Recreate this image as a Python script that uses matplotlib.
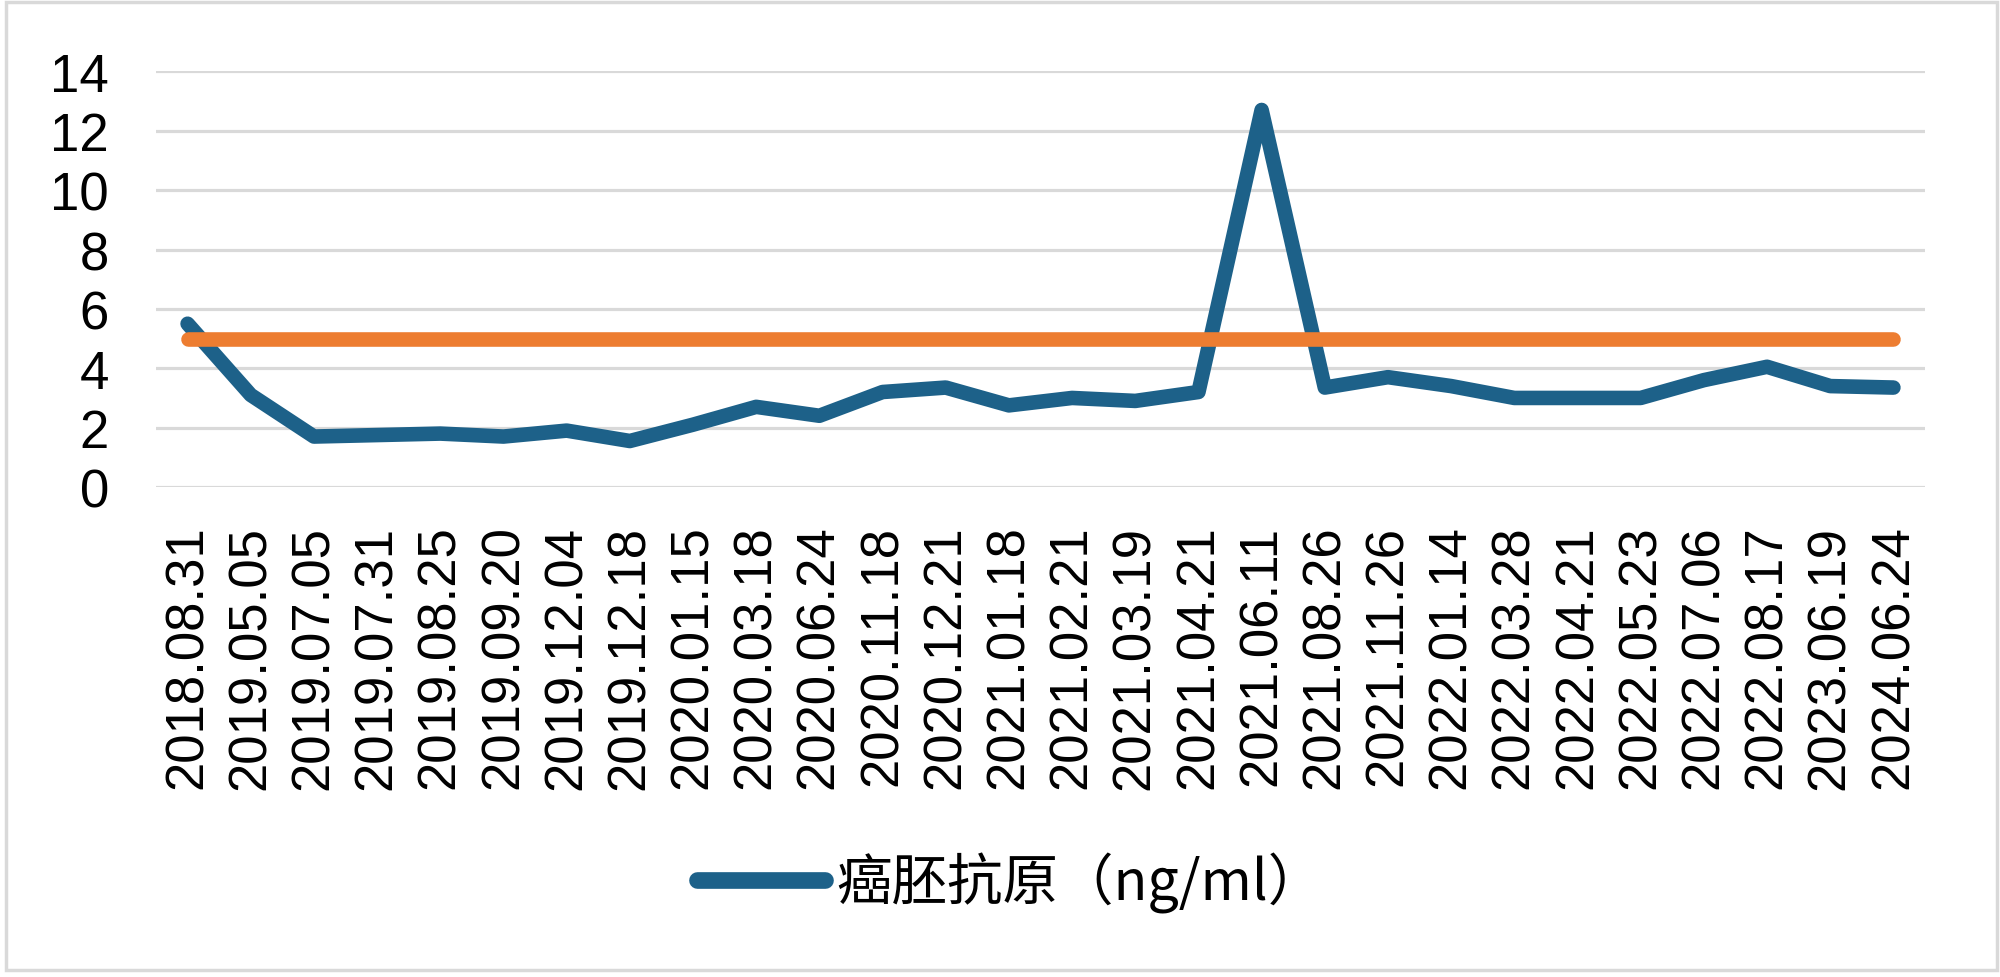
import matplotlib
matplotlib.use("Agg")
import matplotlib.pyplot as plt
from matplotlib.lines import Line2D
from matplotlib.patches import Rectangle

dates = ["2018.08.31", "2019.05.05", "2019.07.05", "2019.07.31", "2019.08.25",
         "2019.09.20", "2019.12.04", "2019.12.18", "2020.01.15", "2020.03.18",
         "2020.06.24", "2020.11.18", "2020.12.21", "2021.01.18", "2021.02.21",
         "2021.03.19", "2021.04.21", "2021.06.11", "2021.08.26", "2021.11.26",
         "2022.01.14", "2022.03.28", "2022.04.21", "2022.05.23", "2022.07.06",
         "2022.08.17", "2023.06.19", "2024.06.24"]
cea = [5.5, 3.1, 1.7, 1.75, 1.8, 1.7, 1.9, 1.55, 2.1, 2.7,
       2.4, 3.2, 3.35, 2.75, 3.0, 2.9, 3.2, 12.7, 3.35, 3.7,
       3.4, 3.0, 3.0, 3.0, 3.6, 4.05, 3.4, 3.35]
reference = [5, 5, 5, 5, 5, 5, 5, 5, 5, 5, 5, 5, 5, 5,
             5, 5, 5, 5, 5, 5, 5, 5, 5, 5, 5, 5, 5, 5]
yticks = [0, 2, 4, 6, 8, 10, 12, 14]
legend_label = "癌胚抗原（ng/ml）"

BLUE = "#1D6189"
ORANGE = "#ED7D31"
GRID = "#D9D9D9"

fig = plt.figure(figsize=(20, 9.78), dpi=100)
ax = fig.add_axes([0.078, 0.501, 0.8845, 0.425])

x = list(range(len(dates)))
ax.plot(x, cea, color=BLUE, lw=10.5, solid_capstyle="round",
        solid_joinstyle="round", zorder=3, clip_on=False)
ax.plot(x, reference, color=ORANGE, lw=10.5, solid_capstyle="round",
        zorder=4, clip_on=False)

ax.set_xlim(-0.5, len(dates) - 0.5)
ax.set_ylim(0, 14)
ax.set_yticks(yticks)
ax.set_yticklabels([str(v) for v in yticks], fontfamily="Liberation Sans",
                   fontsize=38)
ax.set_xticks(x)
ax.set_xticklabels(dates, rotation=90, fontfamily="Liberation Sans",
                   fontsize=38)
ax.tick_params(axis="y", length=0, pad=34)
ax.tick_params(axis="x", length=0, pad=27)
for s in ax.spines.values():
    s.set_visible(False)
ax.grid(axis="y", color=GRID, lw=2.3)
ax.set_axisbelow(True)

handle = Line2D([0], [0], color=BLUE, lw=12, solid_capstyle="round")
fig.legend([handle], [legend_label], loc="center",
           bbox_to_anchor=(0.505, 1 - 883 / 978), frameon=False,
           prop={"family": ["Noto Sans CJK SC", "DejaVu Sans"], "size": 40},
           handlelength=2.3, handletextpad=0.2)

fig.patches.append(Rectangle((0.003, 0.007), 0.9955, 0.99,
                             transform=fig.transFigure, fill=False,
                             edgecolor=GRID, lw=2.5))

fig.savefig("out.png", dpi=100, facecolor="white")
